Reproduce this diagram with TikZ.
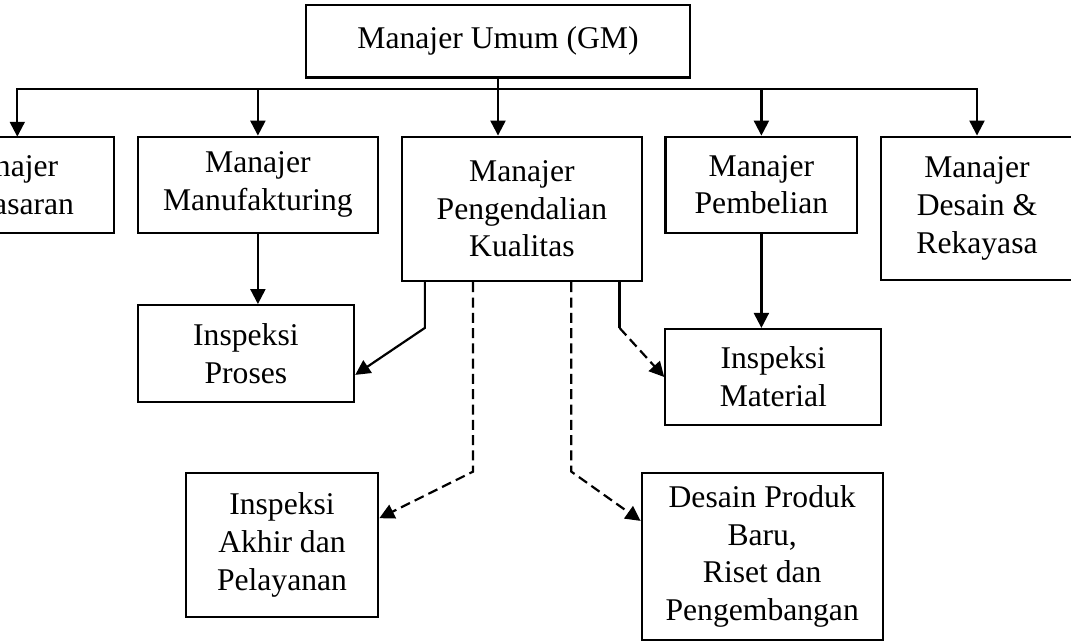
\documentclass[tikz,border=0pt]{standalone}
\usepackage{fontspec}
\setmainfont{Liberation Serif}
\usetikzlibrary{arrows.meta,calc}

\tikzset{
  unit/.style={draw, line width=1.25pt, align=center, inner sep=0pt,
    font=\fontsize{18}{21.5}\selectfont},
  link/.style={line width=1.25pt, -{Triangle[length=8.5pt,width=8.5pt]}},
  dlink/.style={link, dash pattern=on 5.7pt off 3pt},
  plain/.style={line width=1.25pt},
}

\begin{document}
\begin{tikzpicture}[x=0.02cm,y=-0.02cm]
    \clip (0,0) rectangle (1071,641);
    % top level
    \node[unit, minimum width=7.69cm, minimum height=1.45cm] (gm) at (498,41.3) {Manajer Umum (GM)};
    \coordinate (bus) at (0,89.3);
    % managers
    \node[unit, minimum width=4.35cm, minimum height=1.93cm] (pms) at (5.5,185) {Manajer\\Pemasaran};
    \coordinate (pmsin) at (17.3,136.7);
    \node[unit, minimum width=4.81cm, minimum height=1.92cm] (mfg) at (257.9,184.7) {Manajer\\Manufakturing};
    \node[unit, minimum width=4.81cm, minimum height=2.89cm] (pgk) at (521.9,208.9) {Manajer\\Pengendalian\\Kualitas};
    \node[unit, minimum width=3.84cm, minimum height=1.92cm] (pbl) at (761.4,184.7) {Manajer\\Pembelian};
    \node[unit, minimum width=3.84cm, minimum height=2.87cm] (dsr) at (977,208.4) {Manajer\\Desain \&\\Rekayasa};
    % inspection units
    \node[unit, minimum width=4.33cm, minimum height=1.93cm] (prs) at (245.9,353.4) {Inspeksi\\Proses};
    \node[unit, minimum width=4.32cm, minimum height=1.92cm] (mtl) at (773.3,377) {Inspeksi\\Material};
    \node[unit, minimum width=3.85cm, minimum height=2.88cm] (akh) at (282,544.7) {Inspeksi\\Akhir dan\\Pelayanan};
    \node[unit, minimum width=4.82cm, minimum height=3.35cm] (dpb) at (762.2,556.4) {Desain Produk\\Baru,\\Riset dan\\Pengembangan};

    % GM to managers
    \draw[plain] (gm.south) -- (gm.south |- bus);
    \draw[link] (gm.south |- bus) -| (pmsin);
    \draw[link] (gm.south |- bus) -| (mfg.north);
    \draw[link] (gm.south) -- (gm.south |- pgk.north);
    \draw[link] (gm.south |- bus) -| (pbl.north);
    \draw[link] (gm.south |- bus) -| (dsr.north);

    % managers to inspection
    \draw[link] (mfg.south) -- (mfg.south |- prs.north);
    \draw[link] (pbl.south) -- (pbl.south |- mtl.north);

    % quality control lines
    \coordinate (q1) at ([xshift=0.486cm]pgk.south west);
    \coordinate (q2) at ([xshift=1.45cm]pgk.south west);
    \coordinate (q3) at ([xshift=-1.44cm]pgk.south east);
    \coordinate (q4) at ([xshift=-0.474cm]pgk.south east);
    \coordinate (b1) at (q1 |- mtl.north);
    \coordinate (b4) at (q4 |- mtl.north);
    \draw[link] (q1) -- (b1) -- ([yshift=-0.43cm]prs.east);
    \draw[plain] (q4) -- (b4);
    \draw[dlink] (b4) -- (mtl.west);
    \draw[dlink] (q2) -- (q2 |- akh.north) -- ([yshift=0.53cm]akh.east);
    \draw[dlink] (q3) -- (q3 |- dpb.north) -- ([yshift=0.71cm]dpb.west);
\end{tikzpicture}
\end{document}
